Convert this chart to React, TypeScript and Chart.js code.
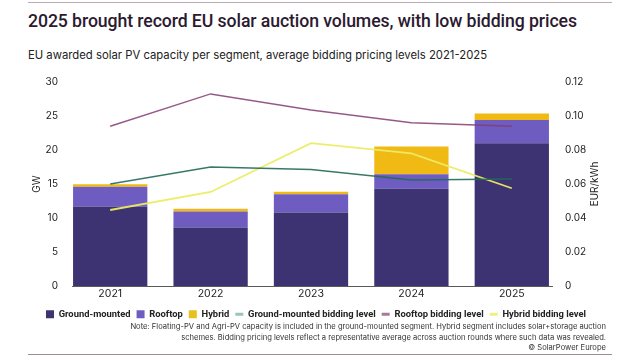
import React, { useEffect, useRef } from "react";
import { Chart, registerables } from "chart.js";

Chart.register(...registerables);

const categories = ["2021", "2022", "2023", "2024", "2025"];
const groundMounted = [11.7, 8.6, 10.8, 14.3, 21.0];
const rooftop = [2.9, 2.35, 2.7, 2.15, 3.4];
const hybrid = [0.35, 0.4, 0.35, 4.05, 0.95];
const groundBid = [0.06, 0.07, 0.0685, 0.0624, 0.063];
const rooftopBid = [0.094, 0.113, 0.1035, 0.096, 0.094];
const hybridBid = [0.0447, 0.0553, 0.084, 0.078, 0.0575];
const gwTicks = [0, 5, 10, 15, 20, 25, 30];
const eurTicks = [0, 0.02, 0.04, 0.06, 0.08, 0.1, 0.12];

const FONT = "Inter, 'Open Sans', sans-serif";
const LFONT = "Roboto, 'Open Sans', sans-serif";
const TEXT = "#222222";

const baselinePlugin = {
  id: "baseline",
  afterDatasetsDraw(chart: any) {
    const meta = chart.getDatasetMeta(0);
    const bars = meta.data;
    if (!bars.length) return;
    const first = bars[0];
    const last = bars[bars.length - 1];
    const y = chart.scales.y.getPixelForValue(0);
    const ctx = chart.ctx;
    ctx.save();
    ctx.strokeStyle = "#5a5a5a";
    ctx.lineWidth = 1;
    ctx.beginPath();
    ctx.moveTo(first.x - first.width / 2 - 1, y + 0.5);
    ctx.lineTo(last.x + last.width / 2 + 4, y + 0.5);
    ctx.stroke();
    ctx.restore();
  },
};

const rightTitlePlugin = {
  id: "rightTitle",
  afterDraw(chart: any) {
    const s = chart.scales.y1;
    const ctx = chart.ctx;
    ctx.save();
    ctx.translate(s.right - 7, (chart.chartArea.top + chart.chartArea.bottom) / 2);
    ctx.rotate(-Math.PI / 2);
    ctx.fillStyle = TEXT;
    ctx.font = `10px ${FONT}`;
    ctx.textAlign = "center";
    ctx.textBaseline = "middle";
    ctx.fillText("EUR/kWh", 0, 0);
    ctx.restore();
  },
};

export default function App() {
  const ref = useRef<HTMLCanvasElement>(null);

  useEffect(() => {
    if (!ref.current) return;
    const lineColors = {
      ground: "rgba(35,105,88,0.9)",
      roof: "rgba(130,60,115,0.85)",
      hyb: "rgba(236,236,100,0.95)",
    };
    const legendColors = ["#3d3373", "#6e5cc0", "#e8c21c", "#9cc4b6", "#a47a9f", "#f2ee86"];
    const chart = new Chart(ref.current, {
      type: "bar",
      data: {
        labels: categories,
        datasets: [
          { type: "bar", label: "Ground-mounted", data: groundMounted, backgroundColor: "#3d3373", yAxisID: "y", order: 2, barPercentage: 0.74, categoryPercentage: 1 },
          { type: "bar", label: "Rooftop", data: rooftop, backgroundColor: "#6e5cc0", yAxisID: "y", order: 2, barPercentage: 0.74, categoryPercentage: 1 },
          { type: "bar", label: "Hybrid", data: hybrid, backgroundColor: "#f0b914", yAxisID: "y", order: 2, barPercentage: 0.74, categoryPercentage: 1 },
          { type: "line", label: "Ground-mounted bidding level", data: groundBid, borderColor: lineColors.ground, backgroundColor: lineColors.ground, borderWidth: 1.5, pointRadius: 0, yAxisID: "y1", order: 1, tension: 0 },
          { type: "line", label: "Rooftop bidding level", data: rooftopBid, borderColor: lineColors.roof, backgroundColor: lineColors.roof, borderWidth: 1.5, pointRadius: 0, yAxisID: "y1", order: 1, tension: 0 },
          { type: "line", label: "Hybrid bidding level", data: hybridBid, borderColor: lineColors.hyb, backgroundColor: lineColors.hyb, borderWidth: 1.8, pointRadius: 0, yAxisID: "y1", order: 1, tension: 0 },
        ] as any,
      },
      options: {
        animation: false,
        responsive: false,
        devicePixelRatio: 1,
        layout: { padding: { left: 30, right: 38, top: 18, bottom: 0 } },
        plugins: {
          tooltip: { enabled: false },
          legend: {
            position: "bottom",
            labels: {
              usePointStyle: true,
              pointStyleWidth: 8,
              boxHeight: 8,
              padding: 6,
              color: TEXT,
              font: { family: LFONT, size: 9.4, weight: "bold" },
              generateLabels(chart: any) {
                return chart.data.datasets.map((ds: any, i: number) => {
                  const isLine = ds.type === "line";
                  return {
                    text: ds.label,
                    fillStyle: legendColors[i],
                    strokeStyle: legendColors[i],
                    lineWidth: isLine ? 3 : 0,
                    pointStyle: isLine ? "line" : "rect",
                    hidden: false,
                    datasetIndex: i,
                    fontColor: TEXT,
                  };
                });
              },
            },
          },
        },
        scales: {
          x: {
            stacked: true,
            afterFit(s: any) { s.height = 17.6; },
            grid: { display: false, drawTicks: false },
            border: { display: false },
            ticks: { color: TEXT, padding: 2, font: { family: FONT, size: 10.5 } },
          },
          y: {
            position: "left",
            stacked: true,
            min: 0,
            max: 30,
            afterBuildTicks(s: any) { s.ticks = gwTicks.map((v) => ({ value: v })); },
            afterFit(s: any) { s.width = 30; },
            grid: { display: false, drawTicks: false },
            border: { display: false },
            ticks: { color: TEXT, padding: 2, font: { family: FONT, size: 10 } },
            title: { display: true, text: "GW", color: TEXT, padding: { top: 1, bottom: 0 }, font: { family: FONT, size: 10 } },
          },
          y1: {
            position: "right",
            min: 0,
            max: 0.12,
            afterBuildTicks(s: any) { s.ticks = eurTicks.map((v) => ({ value: v })); },
            afterFit(s: any) { s.width = 40; },
            grid: { display: false, drawTicks: false },
            border: { display: false },
            ticks: {
              color: TEXT,
              padding: 3,
              font: { family: FONT, size: 10 },
              callback: (v: any) => (Number(v) === 0 ? "0" : Number(v).toFixed(2)),
            },
          },
        },
      } as any,
      plugins: [baselinePlugin, rightTitlePlugin],
    });
    return () => chart.destroy();
  }, []);

  return (
    <div style={{ position: "absolute", left: 0, top: 0, width: 640, height: 360, background: "#fff", fontFamily: FONT, overflow: "hidden" }}>
      <div style={{ position: "absolute", left: 28, right: 28, top: 2, height: 1, background: "#b9aab4" }} />
      <div style={{ position: "absolute", left: 28, top: 11, fontFamily: LFONT, fontSize: 17.7, fontWeight: 500, color: "#2b1a30", whiteSpace: "nowrap", letterSpacing: -0.1 }}>
        2025 brought record EU solar auction volumes, with low bidding prices
      </div>
      <div style={{ position: "absolute", left: 28, top: 48, fontSize: 11.3, color: TEXT, whiteSpace: "nowrap" }}>
        EU awarded solar PV capacity per segment, average bidding pricing levels 2021-2025
      </div>
      <canvas ref={ref} width={640} height={265} style={{ position: "absolute", left: 0, top: 64, width: 640, height: 265 }} />
      <div style={{ position: "absolute", right: 34, top: 322, fontSize: 7.6, lineHeight: "10.5px", color: "#333", textAlign: "right", whiteSpace: "nowrap" }}>
        <div>Note: Floating-PV and Agri-PV capacity is included in the ground-mounted segment. Hybrid segment includes solar+storage auction</div>
        <div>schemes. Bidding pricing levels reflect a representative average across auction rounds where such data was revealed.</div>
        <div>© SolarPower Europe</div>
      </div>
      <div style={{ position: "absolute", left: 28, right: 28, top: 354, height: 1, background: "#9a8f96" }} />
    </div>
  );
}
